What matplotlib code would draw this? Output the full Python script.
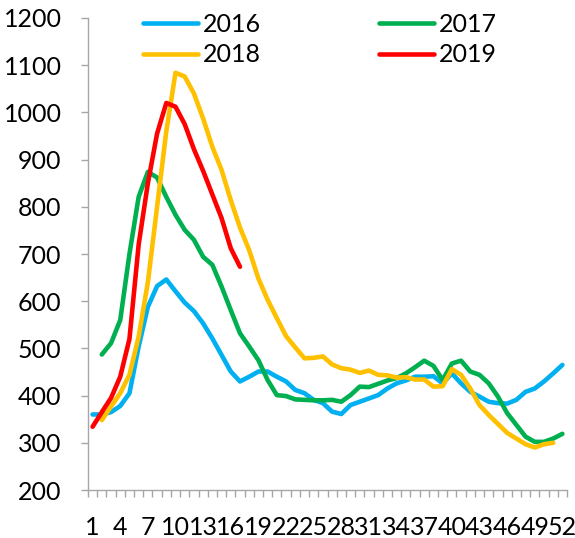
import matplotlib
matplotlib.use("Agg")
import matplotlib.pyplot as plt
import numpy as np
from matplotlib.ticker import MultipleLocator, FixedLocator

plt.rcParams["font.family"] = ["Lato", "DejaVu Sans"]

weeks = np.arange(1, 53)

y2016 = [360, 360, 365, 378, 405, 504, 588, 632, 646, 621, 597, 579, 553, 521, 486, 451, 430,
         440, 451, 451, 440, 430, 412, 405, 391, 384, 366, 361, 380, 387, 394, 401, 415, 426,
         432, 440, 440, 441, 426, 447, 426, 408, 398, 387, 384, 383, 391, 408, 415, 430, 447, 465]

y2017 = [np.nan, 487, 511, 560, 700, 821, 874, 862, 821, 783, 751, 730, 694, 677, 631, 581, 532,
         504, 475, 433, 401, 399, 392, 391, 390, 390, 391, 387, 401, 419, 418, 425, 432, 437,
         447, 460, 474, 463, 433, 468, 474, 451, 444, 426, 398, 363, 338, 313, 302, 302, 309, 319]

y2018 = [np.nan, 348, 377, 405, 444, 525, 640, 800, 960, 1084, 1076, 1040, 987, 927, 878, 814, 756,
         708, 648, 603, 564, 526, 502, 479, 480, 483, 466, 458, 455, 448, 453, 444, 443, 438,
         439, 434, 434, 419, 420, 456, 444, 415, 380, 359, 340, 321, 309, 297, 290, 297, 300, np.nan]

y2019 = [334, 365, 395, 440, 520, 720, 850, 955, 1020, 1012, 975, 922, 876, 826, 776, 712, 673]

series = [
    ("2016", y2016, "#00B0F0"),
    ("2017", y2017, "#00B050"),
    ("2018", y2018, "#FFC000"),
    ("2019", y2019, "#FF0000"),
]

fig = plt.figure(figsize=(5.75, 5.38), dpi=100)
ax = fig.add_axes([88 / 575, 1 - 490 / 538, (567 - 88) / 575, (490 - 18) / 538])

lines = {}
for name, values, color in series:
    line, = ax.plot(weeks[:len(values)], values, color=color, linewidth=3.3,
                    solid_capstyle="round", solid_joinstyle="round", label=name)
    lines[name] = line

ax.set_xlim(0.5, 52.5)
ax.set_ylim(200, 1200)
ax.yaxis.set_major_locator(MultipleLocator(100))

ax.xaxis.set_major_locator(FixedLocator(list(range(1, 53, 3))))
ax.xaxis.set_minor_locator(FixedLocator(list(np.arange(0.5, 53, 1.0))))
ax.tick_params(axis="x", which="major", length=0, pad=19, labelsize=18)
ax.tick_params(axis="x", which="minor", length=5, width=1, color="#A6A6A6")
ax.tick_params(axis="y", which="major", length=5, width=1, color="#A6A6A6", pad=14, labelsize=18)

for side in ["top", "right"]:
    ax.spines[side].set_visible(False)
for side in ["left", "bottom"]:
    ax.spines[side].set_color("#A6A6A6")
    ax.spines[side].set_linewidth(1)

# column-wise fill: 2016/2018 first column, 2017/2019 second
order = ["2016", "2018", "2017", "2019"]
ax.legend([lines[k] for k in order], order,
          loc="upper left", bbox_to_anchor=(143 / 575, 1 - 13 / 538), bbox_transform=fig.transFigure,
          ncol=2, frameon=False, fontsize=18, handlelength=2.2, handletextpad=0.2,
          columnspacing=4.7, labelspacing=0.3, borderpad=0, borderaxespad=0)

fig.savefig("out.png", dpi=100)
